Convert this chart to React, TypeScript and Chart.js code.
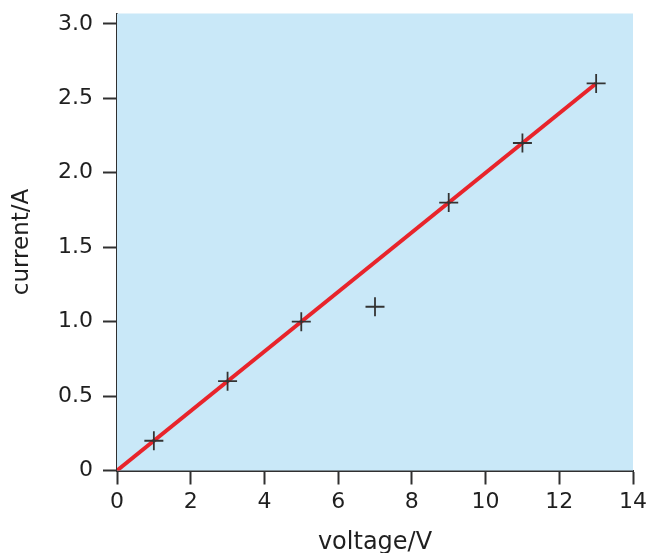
import React, { useEffect, useRef } from "react";
import { Chart, registerables } from "chart.js";

Chart.register(...registerables);

const voltage = [1, 3, 5, 7, 9, 11, 13];
const current = [0.2, 0.6, 1.0, 1.1, 1.8, 2.2, 2.6];
const fitVoltage = [0, 13];
const fitCurrent = [0, 2.6];
const xTickValues = [0, 2, 4, 6, 8, 10, 12, 14];
const yTickValues = [0, 0.5, 1.0, 1.5, 2.0, 2.5, 3.0];
const yTickLabels = ["0", "0.5", "1.0", "1.5", "2.0", "2.5", "3.0"];
const xTitle = "voltage/V";
const yTitle = "current/A";

const AXIS = "#303030";
const TEXT = "#1f1f1f";

const plotBg = {
  id: "plotBg",
  beforeDatasetsDraw(chart: any) {
    const { ctx, chartArea } = chart;
    ctx.save();
    ctx.fillStyle = "#c9e8f8";
    ctx.fillRect(chartArea.left, chartArea.top, chartArea.right - chartArea.left, chartArea.bottom - chartArea.top);
    ctx.restore();
  },
};

export default function App() {
  const ref = useRef<HTMLCanvasElement | null>(null);
  useEffect(() => {
    if (!ref.current) return;
    const chart = new Chart(ref.current, {
      type: "scatter",
      data: {
        datasets: [
          {
            label: "measured",
            data: voltage.map((v, i) => ({ x: v, y: current[i] })),
            pointStyle: "cross",
            pointRadius: 9.5,
            pointBorderWidth: 1.8,
            borderColor: "#333333",
            backgroundColor: "#333333",
            showLine: false,
          },
          {
            label: "fit",
            data: fitVoltage.map((v, i) => ({ x: v, y: fitCurrent[i] })),
            showLine: true,
            borderColor: "#e8242b",
            borderWidth: 4,
            pointRadius: 0,
            fill: false,
          },
        ],
      },
      plugins: [plotBg],
      options: {
        animation: false,
        responsive: true,
        maintainAspectRatio: false,
        layout: { padding: { left: 0, top: 13.5, right: 17, bottom: 0 } },
        plugins: { legend: { display: false }, tooltip: { enabled: false } },
        scales: {
          x: {
            type: "linear",
            min: 0,
            max: 14,
            afterBuildTicks: (scale: any) => {
              scale.ticks = xTickValues.map((v) => ({ value: v }));
            },
            afterFit: (scale: any) => {
              scale.height = 82.5;
            },
            grid: {
              drawOnChartArea: false,
              drawTicks: true,
              tickLength: 14,
              tickWidth: 2,
              tickColor: AXIS,
              color: AXIS,
            },
            border: { display: true, color: AXIS, width: 2 },
            ticks: {
              padding: 0,
              color: TEXT,
              font: { family: "DejaVu Sans", size: 22, lineHeight: 1.65 },
              maxRotation: 0,
              autoSkip: false,
            },
            title: {
              display: true,
              text: xTitle,
              color: TEXT,
              font: { family: "DejaVu Sans", size: 24, lineHeight: 1 },
              padding: { top: 0, bottom: -2 },
            },
          },
          y: {
            type: "linear",
            min: 0,
            max: 3.07,
            afterBuildTicks: (scale: any) => {
              scale.ticks = yTickValues.map((v) => ({ value: v }));
            },
            afterFit: (scale: any) => {
              scale.width = 117;
            },
            grid: {
              drawOnChartArea: false,
              drawTicks: true,
              tickLength: 14,
              tickWidth: 2,
              tickColor: AXIS,
              color: AXIS,
            },
            border: { display: true, color: AXIS, width: 2 },
            ticks: {
              padding: 10,
              color: TEXT,
              font: { family: "DejaVu Sans", size: 22, lineHeight: 0.2 },
              autoSkip: false,
              callback: (value: any) => {
                const i = yTickValues.indexOf(Number(value));
                return i >= 0 ? yTickLabels[i] : "";
              },
            },
            title: {
              display: true,
              text: yTitle,
              color: TEXT,
              font: { family: "DejaVu Sans", size: 23, lineHeight: 1 },
              padding: { top: 11, bottom: 0 },
            },
          },
        },
      },
    } as any);
    return () => chart.destroy();
  }, []);
  return (
    <div style={{ position: "fixed", left: 0, top: 0, width: 650, height: 553, background: "#ffffff" }}>
      <canvas ref={ref} />
    </div>
  );
}
